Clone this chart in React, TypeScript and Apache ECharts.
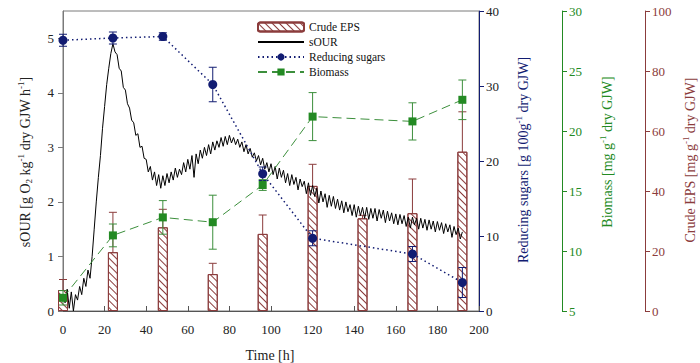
import React, { useEffect, useRef } from "react";
import * as echarts from "echarts";

// ---- Data ----
const SAMPLE_TIMES = [0, 24, 48, 72, 96, 120, 144, 168, 192];

const SUGAR_TIMES = [0, 24, 48, 72, 96, 120, 168, 192];
const SUGAR_VALUES = [36.1, 36.4, 36.6, 30.2, 18.3, 9.7, 7.6, 3.8];
const SUGAR_ERR = [0.8, 0.8, 0.5, 2.3, 0.9, 1.0, 1.0, 2.0];

const BIOMASS_TIMES = [0, 24, 48, 72, 96, 120, 168, 192];
const BIOMASS_VALUES = [6.1, 11.3, 12.8, 12.4, 15.5, 21.2, 20.8, 22.6];
const BIOMASS_ERR = [0.6, 0.95, 1.4, 2.25, 0.45, 2.0, 1.55, 1.65];

const EPS_VALUES = [7, 19.6, 27.9, 12.3, 25.7, 41.7, 30.9, 32.6, 53.1];
const EPS_ERR = [3.5, 13.3, 6, 3.6, 6.3, 7.2, 1, 11.4, 13.3];

const SOUR_STEP_H = 1;
const SOUR_VALUES = [
  0.3, 0.15, 0.4, 0.05, 0.35, 0.0, 0.3, 0.2, 0.45, 0.3,
  0.6, 0.45, 0.75, 0.6, 1.0, 1.5, 2.0, 2.45, 2.85, 3.35,
  3.75, 4.15, 4.45, 4.72, 4.9, 4.75, 4.7, 4.45, 4.4, 4.1,
  4.05, 3.8, 3.72, 3.5, 3.45, 3.22, 3.25, 3.0, 3.02, 2.8,
  2.78, 2.55, 2.65, 2.4, 2.55, 2.3, 2.5, 2.25, 2.48, 2.3,
  2.52, 2.35, 2.55, 2.4, 2.62, 2.45, 2.6, 2.5, 2.72, 2.55,
  2.78, 2.6, 2.85, 2.45, 2.88, 2.7, 2.95, 2.8, 3.0, 2.85,
  3.05, 2.88, 3.1, 2.95, 3.12, 3.0, 3.18, 3.02, 3.2, 3.05,
  3.22, 3.08, 3.18, 3.05, 3.15, 3.0, 3.1, 2.92, 3.05, 2.88,
  2.98, 2.82, 2.9, 2.75, 2.85, 2.68, 2.8, 2.6, 2.72, 2.55,
  2.7, 2.5, 2.65, 2.42, 2.62, 2.45, 2.58, 2.35, 2.52, 2.3,
  2.5, 2.32, 2.45, 2.22, 2.42, 2.28, 2.38, 2.15, 2.35, 2.12,
  2.3, 2.1, 2.25, 1.98, 2.2, 2.0, 2.15, 1.9, 2.12, 1.92,
  2.1, 1.88, 2.05, 1.85, 2.02, 1.8, 2.0, 1.82, 1.95, 1.75,
  1.95, 1.72, 1.92, 1.75, 1.9, 1.7, 1.9, 1.68, 1.88, 1.7,
  1.88, 1.65, 1.86, 1.7, 1.85, 1.62, 1.83, 1.65, 1.8, 1.6,
  1.78, 1.58, 1.77, 1.6, 1.75, 1.55, 1.72, 1.52, 1.72, 1.58,
  1.7, 1.5, 1.7, 1.52, 1.68, 1.48, 1.67, 1.5, 1.65, 1.45,
  1.64, 1.48, 1.62, 1.42, 1.6, 1.45, 1.58, 1.35, 1.55, 1.4,
  1.52, 1.32, 1.45,
];

const X_TICKS = { min: 0, max: 200, interval: 20 };

// ---- Styles ----
const FONT = "Liberation Serif";
const NAVY = "#121c72";
const GREEN = "#238a23";
const GREEN_LINE = "#3c8f3c";
const RED = "#8b3c3c";
const GRAY = "#7a7a7a";

function errRender(color: string, cap: number) {
  return (_params: any, api: any) => {
    const x = api.value(0);
    const v = api.value(1);
    const e = api.value(2);
    const top = api.coord([x, v + e]);
    const bot = api.coord([x, v - e]);
    const style = { stroke: color, lineWidth: 1 };
    return {
      type: "group",
      children: [
        { type: "line", shape: { x1: top[0], y1: top[1], x2: bot[0], y2: bot[1] }, style },
        { type: "line", shape: { x1: top[0] - cap, y1: top[1], x2: top[0] + cap, y2: top[1] }, style },
        { type: "line", shape: { x1: bot[0] - cap, y1: bot[1], x2: bot[0] + cap, y2: bot[1] }, style },
      ],
    };
  };
}

export default function App() {
  const ref = useRef<HTMLDivElement>(null);
  useEffect(() => {
    if (!ref.current) return;
    const chart = echarts.init(ref.current, undefined, { renderer: "svg" });

    const sourData = SOUR_VALUES.map((v, i) => [i * SOUR_STEP_H, v]);
    const sugarData = SUGAR_TIMES.map((t, i) => [t, SUGAR_VALUES[i]]);
    const sugarErr = SUGAR_TIMES.map((t, i) => [t, SUGAR_VALUES[i], SUGAR_ERR[i]]);
    const bioData = BIOMASS_TIMES.map((t, i) => [t, BIOMASS_VALUES[i]]);
    const bioErr = BIOMASS_TIMES.map((t, i) => [t, BIOMASS_VALUES[i], BIOMASS_ERR[i]]);
    const epsData = SAMPLE_TIMES.map((t, i) => [t, EPS_VALUES[i]]);
    const epsErr = SAMPLE_TIMES.map((t, i) => [t, EPS_VALUES[i], EPS_ERR[i]]);

    const axisLabel = (color: string) => ({ color, fontFamily: FONT, fontSize: 13, fontWeight: "normal" });

    const option: any = {
      animation: false,
      backgroundColor: "#ffffff",
      textStyle: { fontFamily: FONT },
      grid: {
        left: 63, right: 221, top: 11, bottom: 52,
        show: true, borderColor: GRAY, borderWidth: 1, backgroundColor: "transparent",
      },
      legend: {
        data: [
          { name: "Crude EPS" },
          { name: "sOUR", itemStyle: { opacity: 0 } },
          { name: "Reducing sugars" },
          { name: "Biomass" },
        ],
        orient: "vertical",
        left: 252,
        top: 16,
        itemWidth: 46,
        itemHeight: 9,
        itemGap: 3,
        textStyle: { fontFamily: FONT, fontSize: 11.5, color: "#111", lineHeight: 11 },
      },
      xAxis: {
        type: "value",
        min: X_TICKS.min, max: X_TICKS.max, interval: X_TICKS.interval,
        axisLine: { show: true, lineStyle: { color: "#555", width: 1 } },
        axisTick: { show: true, inside: true, length: 5, lineStyle: { color: "#555" } },
        axisLabel: { ...axisLabel("#222"), margin: 12 },
        splitLine: { show: false },
      },
      yAxis: [
        {
          type: "value", position: "left", min: 0, max: 5.5, interval: 1,
          axisLine: { show: true, lineStyle: { color: GRAY } },
          axisTick: { show: true, length: 5, lineStyle: { color: GRAY } },
          axisLabel: { ...axisLabel("#222"), margin: 9, showMaxLabel: false },
          splitLine: { show: false },
        },
        {
          type: "value", position: "right", min: 0, max: 40, interval: 10, offset: 0,
          axisLine: { show: true, lineStyle: { color: NAVY } },
          axisTick: { show: true, length: 5, lineStyle: { color: NAVY } },
          axisLabel: { ...axisLabel("#222"), margin: 7 },
          splitLine: { show: false },
        },
        {
          type: "value", position: "right", min: 5, max: 30, interval: 5, offset: 83,
          axisLine: { show: true, lineStyle: { color: GREEN } },
          axisTick: { show: true, length: 5, lineStyle: { color: GREEN } },
          axisLabel: { ...axisLabel(GREEN), margin: 7 },
          splitLine: { show: false },
        },
        {
          type: "value", position: "right", min: 0, max: 100, interval: 20, offset: 166,
          axisLine: { show: true, lineStyle: { color: RED } },
          axisTick: { show: true, length: 5, lineStyle: { color: RED } },
          axisLabel: { ...axisLabel(RED), margin: 7 },
          splitLine: { show: false },
        },
      ],
      series: [
        {
          type: "custom", xAxisIndex: 0, yAxisIndex: 3, z: 1,
          renderItem: errRender(RED, 4), data: epsErr, encode: { x: 0, y: 1 },
        },
        {
          name: "Crude EPS", type: "bar", xAxisIndex: 0, yAxisIndex: 3, z: 2,
          barWidth: 10, data: epsData,
          itemStyle: {
            color: "#ffffff", borderColor: RED, borderWidth: 1,
            decal: {
              symbol: "rect", symbolSize: 1, color: RED, backgroundColor: "#ffffff",
              dashArrayX: [[1, 0]], dashArrayY: [1, 4], rotation: Math.PI / 4,
            },
          },
        },
        {
          name: "sOUR", type: "line", xAxisIndex: 0, yAxisIndex: 0, z: 3,
          data: sourData, showSymbol: false, symbol: "none",
          lineStyle: { color: "#000", width: 1 }, itemStyle: { color: "#000" },
        },
        {
          type: "custom", xAxisIndex: 0, yAxisIndex: 1, z: 4,
          renderItem: errRender(NAVY, 4), data: sugarErr, encode: { x: 0, y: 1 },
        },
        {
          name: "Reducing sugars", type: "line", xAxisIndex: 0, yAxisIndex: 1, z: 5,
          data: sugarData, symbol: "circle", symbolSize: 9,
          lineStyle: { color: NAVY, width: 1.5, type: [1.5, 3] },
          itemStyle: { color: NAVY },
        },
        {
          type: "custom", xAxisIndex: 0, yAxisIndex: 2, z: 4,
          renderItem: errRender(GREEN_LINE, 4), data: bioErr, encode: { x: 0, y: 1 },
        },
        {
          name: "Biomass", type: "line", xAxisIndex: 0, yAxisIndex: 2, z: 5,
          data: bioData, symbol: "rect", symbolSize: 8,
          lineStyle: { color: GREEN_LINE, width: 1, type: [9, 5] },
          itemStyle: { color: GREEN },
        },
      ],
      graphic: [
        {
          type: "text", x: 25, y: 162, rotation: Math.PI / 2,
          style: {
            text: "{n|sOUR [g O}{sub|2}{n| kg}{sup|-1}{n| dry GJW h}{sup|-1}{n|]}",
            align: "center", verticalAlign: "middle", fill: "#222",
            rich: {
              n: { fontFamily: FONT, fontSize: 14, fill: "#222" },
              sub: { fontFamily: FONT, fontSize: 9, fill: "#222", padding: [8, 0, 0, 0] },
              sup: { fontFamily: FONT, fontSize: 9, fill: "#222", padding: [0, 0, 8, 0] },
            },
          },
        },
        {
          type: "text", x: 523, y: 160, rotation: Math.PI / 2,
          style: {
            text: "{n|Reducing sugars [g 100g}{sup|-1}{n| dry GJW]}",
            align: "center", verticalAlign: "middle", fill: NAVY,
            rich: {
              n: { fontFamily: FONT, fontSize: 14, fill: NAVY },
              sup: { fontFamily: FONT, fontSize: 9, fill: NAVY, padding: [0, 0, 8, 0] },
            },
          },
        },
        {
          type: "text", x: 607, y: 152, rotation: Math.PI / 2,
          style: {
            text: "{n|Biomass [mg g}{sup|-1}{n| dry GJW]}",
            align: "center", verticalAlign: "middle", fill: GREEN,
            rich: {
              n: { fontFamily: FONT, fontSize: 14, fill: GREEN },
              sup: { fontFamily: FONT, fontSize: 9, fill: GREEN, padding: [0, 0, 8, 0] },
            },
          },
        },
        {
          type: "text", x: 690, y: 160, rotation: Math.PI / 2,
          style: {
            text: "{n|Crude EPS [mg g}{sup|-1}{n| dry GJW]}",
            align: "center", verticalAlign: "middle", fill: RED,
            rich: {
              n: { fontFamily: FONT, fontSize: 14, fill: RED },
              sup: { fontFamily: FONT, fontSize: 9, fill: RED, padding: [0, 0, 8, 0] },
            },
          },
        },
        {
          type: "text", x: 270, y: 355,
          style: {
            text: "{n|Time [h]}", align: "center", verticalAlign: "middle", fill: "#222",
            rich: { n: { fontFamily: FONT, fontSize: 14, fontWeight: "normal", fill: "#222" } },
          },
        },
      ],
    };
    chart.setOption(option);
    return () => chart.dispose();
  }, []);

  return <div ref={ref} style={{ width: 700, height: 363, position: "absolute", left: 0, top: 0 }} />;
}
